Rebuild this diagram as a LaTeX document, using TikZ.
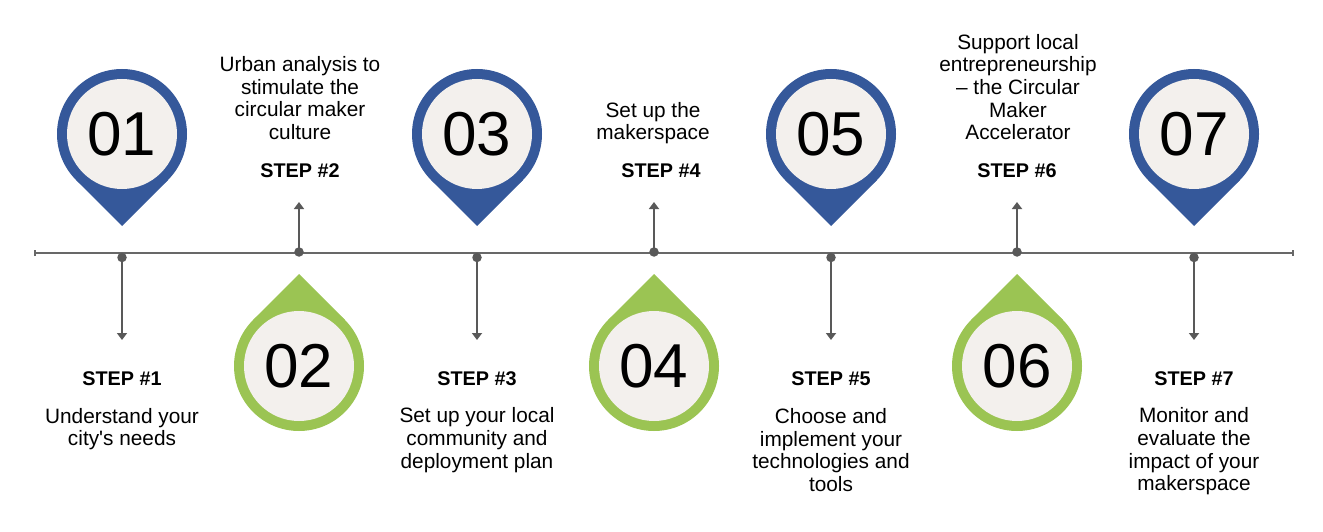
\documentclass[tikz,border=0pt]{standalone}
\usepackage{fontspec}
\newfontfamily\plainfont{Liberation Sans}
\usetikzlibrary{arrows.meta}
\definecolor{pinblue}{HTML}{35589A}
\definecolor{pingreen}{HTML}{9BC453}
\definecolor{pincream}{HTML}{F3F0ED}
\definecolor{linegray}{HTML}{595959}
\definecolor{axisgray}{HTML}{686868}
\tikzset{
  x=1pt,y=-1pt,
  pinface/.style={circle,fill=pincream,inner sep=0pt,minimum size=110pt,text=black,font=\plainfont\fontsize{62}{62}\selectfont},
  bodytext/.style={align=center,inner sep=0pt,text=black,font=\plainfont\fontsize{20.8}{22.7}\selectfont},
  steptext/.style={inner sep=0pt,text=black,font=\plainfont\fontsize{19.8}{22}\selectfont\bfseries},
  dotnode/.style={circle,fill=linegray,inner sep=0pt,minimum size=9.5pt},
  connector/.style={draw=linegray,line width=2pt,-{Triangle[width=10pt,length=7pt]}},
  axisline/.style={draw=axisgray,line width=1.8pt,{Bar[width=6pt,length=1pt]}-{Bar[width=6pt,length=1pt]}},
}
\newcommand{\pinshape}[4]{% x,y,sign,colour
  \fill[#4] (#1,#2) circle[radius=65pt];
  \fill[#4] (#1+46,#2+#3*46) -- (#1,#2+#3*92) -- (#1-46,#2+#3*46) -- cycle;
}
\begin{document}
\begin{tikzpicture}
\useasboundingbox (0,0) rectangle (1323,532);
\coordinate (axisL) at (34,253);
\coordinate (axisR) at (1294,253);
\draw[axisline] (axisL) -- (axisR);

% pins
\pinshape{122}{134}{1}{pinblue}
\node[pinface] (p1) at (122,134) {01};
\pinshape{299}{366}{-1}{pingreen}
\node[pinface] (p2) at (299,366) {02};
\pinshape{477}{134}{1}{pinblue}
\node[pinface] (p3) at (477,134) {03};
\pinshape{654}{366}{-1}{pingreen}
\node[pinface] (p4) at (654,366) {04};
\pinshape{831}{134}{1}{pinblue}
\node[pinface] (p5) at (831,134) {05};
\pinshape{1017}{366}{-1}{pingreen}
\node[pinface] (p6) at (1017,366) {06};
\pinshape{1194}{134}{1}{pinblue}
\node[pinface] (p7) at (1194,134) {07};

% dots and connectors
\node[dotnode] (d1) at (122,257.5) {};
\node[dotnode] (d2) at (299,252) {};
\node[dotnode] (d3) at (477,257.5) {};
\node[dotnode] (d4) at (654,252) {};
\node[dotnode] (d5) at (831,257.5) {};
\node[dotnode] (d6) at (1017,252) {};
\node[dotnode] (d7) at (1194,257.5) {};
\coordinate (e1) at (122,340);
\coordinate (e2) at (299,202);
\coordinate (e3) at (477,340);
\coordinate (e4) at (654,202);
\coordinate (e5) at (831,340);
\coordinate (e6) at (1017,202);
\coordinate (e7) at (1194,340);
\foreach \i in {1,...,7} \draw[connector] (d\i.center) -- (e\i);

% labels
\node[steptext] (s1) at (122,378.5) {STEP \#1};
\node[steptext] (s2) at (300,170.5) {STEP \#2};
\node[steptext] (s3) at (477,378.5) {STEP \#3};
\node[steptext] (s4) at (661,170.5) {STEP \#4};
\node[steptext] (s5) at (831,378.5) {STEP \#5};
\node[steptext] (s6) at (1017,170.5) {STEP \#6};
\node[steptext] (s7) at (1194,378.5) {STEP \#7};
\node[bodytext] (t1) at (122,429) {Understand your\\city's needs};
\node[bodytext] (t2) at (300,98) {Urban analysis to\\stimulate the\\circular maker\\culture};
\node[bodytext] (t3) at (477,440) {Set up your local\\community and\\deployment plan};
\node[bodytext] (t4) at (653,123) {Set up the\\makerspace};
\node[bodytext] (t5) at (831,450) {Choose and\\implement your\\technologies and\\tools};
\node[bodytext] (t6) at (1018,87) {Support local\\entrepreneurship\\– the Circular\\Maker\\Accelerator};
\node[bodytext] (t7) at (1194,451.5) {Monitor and\\evaluate the\\impact of your\\makerspace};
\end{tikzpicture}
\end{document}
